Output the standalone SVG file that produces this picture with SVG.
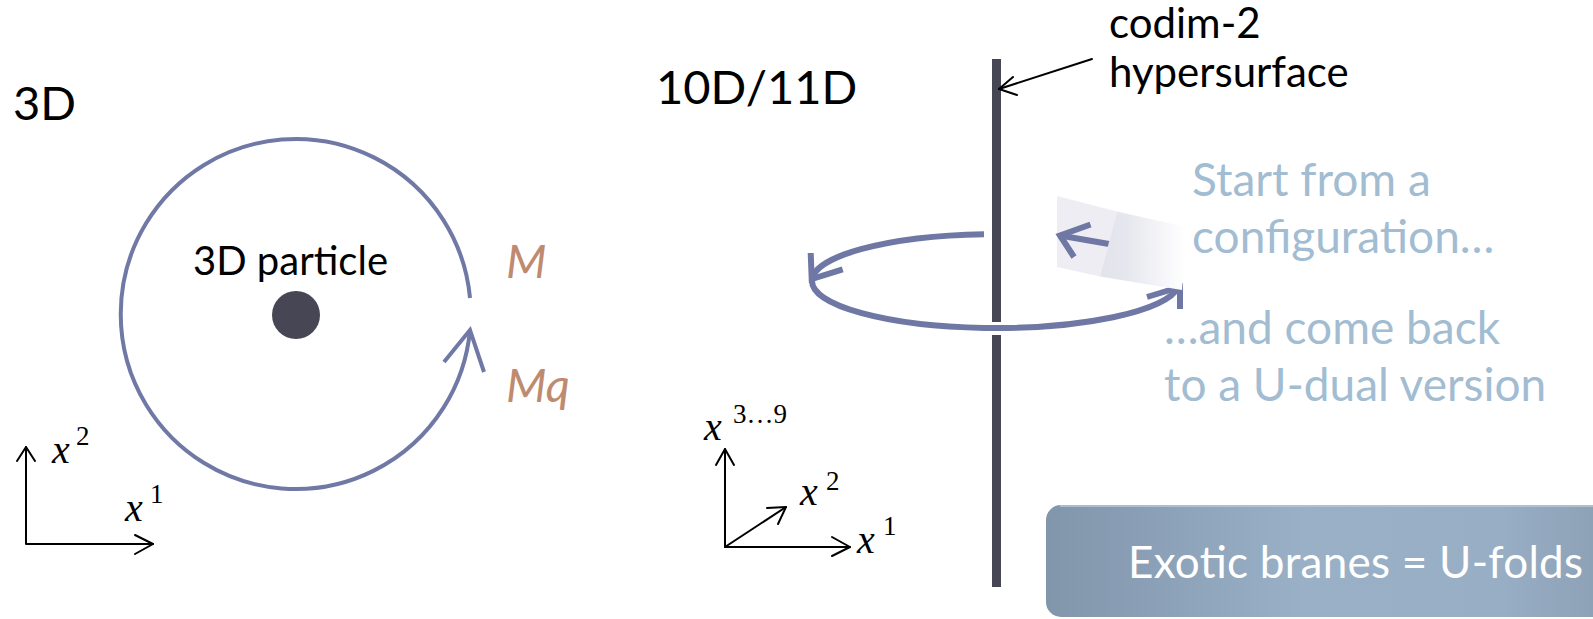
<svg xmlns="http://www.w3.org/2000/svg" width="1593" height="619" viewBox="0 0 1593 619">
<style>
.gill{font-family:Lato,"Open Sans","DejaVu Sans",sans-serif;}
.head{font-size:47px;fill:#000;}
.lbl{font-size:42px;fill:#000;}
.note{font-size:46px;fill:#A2BCD2;}
.mlab{font-size:47px;font-style:italic;fill:#BE8A70;}
.mx{font-family:"Liberation Serif",serif;font-style:italic;font-size:40px;fill:#000;}
.sup{font-family:"Liberation Serif",serif;font-size:27px;fill:#000;}
.ax{fill:none;stroke:#000;stroke-width:2;stroke-linecap:round;stroke-linejoin:round;}
.loop{fill:none;stroke:#7079A6;stroke-width:4;}
.loop2{fill:none;stroke:#6F78A5;stroke-width:6;}
.pole{fill:#474654;}
</style>
<defs>
<linearGradient id="band" gradientUnits="userSpaceOnUse" x1="1100" y1="0" x2="1186" y2="0">
<stop offset="0" stop-color="#E2E3EB"/>
<stop offset="0.3" stop-color="#E6E7EE"/>
<stop offset="1" stop-color="#FFFFFF"/>
</linearGradient>
<linearGradient id="box" x1="0" y1="0" x2="1" y2="0">
<stop offset="0" stop-color="#8195AB"/>
<stop offset="0.45" stop-color="#99B0C6"/>
<stop offset="0.8" stop-color="#98AEC4"/>
<stop offset="1" stop-color="#8B9EB4"/>
</linearGradient>
</defs>

<g id="left-panel">
<text id="title-3d" class="gill head" x="13" y="120">3D</text>
<g id="loop-left">
<path class="loop" d="M470 298 A175 175 0 1 0 470 330"/>
<polyline class="loop" points="444,362 470,330 484,372"/>
</g>
<g id="particle">
<circle cx="296" cy="315" r="24" fill="#474654"/>
<text class="gill" x="193" y="275" font-size="40" fill="#000">3D particle</text>
</g>
<text id="label-M" class="gill mlab" x="506" y="278">M</text>
<text id="label-Mq" class="gill mlab" x="506" y="402">Mq</text>
<g id="axes-left">
<polyline class="ax" points="26,447 26,544 153,544"/>
<polyline class="ax" points="17,461 26,447 35,461"/>
<polyline class="ax" points="135,535 153,544 135,554"/>
<text class="mx" x="52" y="463">x</text><text class="sup" x="76" y="445">2</text>
<text class="mx" x="125" y="521">x</text><text class="sup" x="150" y="503">1</text>
</g>
</g>

<g id="right-panel">
<text id="title-10d" class="gill head" x="656" y="104">10D/11D</text>
<g id="hypersurface">
<rect class="pole" x="992" y="59" width="9" height="263"/>
<rect class="pole" x="992" y="335" width="9" height="252"/>
</g>
<g id="codim-label">
<text class="gill lbl" x="1109" y="38">codim-2</text>
<text class="gill lbl" x="1109" y="87">hypersurface</text>
</g>
<g id="connectors">
<line class="ax" x1="1092" y1="59" x2="999" y2="89"/>
<polyline class="ax" points="1013,77 999,89 1017,95"/>
</g>
<g id="loop-right">
<path class="loop2" d="M984 234.2 A184 47 0 0 0 812 281 A184 47 0 0 0 1178.5 287"/>
<polyline class="loop2" points="810.7,253 811.7,279 842.7,269.3" stroke-linejoin="miter"/>
<polygon points="1057,196 1117,211.5 1100,276.5 1057,267" fill="#EDEDF3"/>
<polyline class="loop2" points="1090.5,224.5 1060,235.5 1074,257"/>
<line class="loop2" x1="1060" y1="235.5" x2="1112" y2="244.5"/>
<polyline class="loop2" points="1147,297 1180,287 1180,309"/>
<polygon points="1117,211.5 1186,227 1182,290 1100,276.5" fill="url(#band)"/>
</g>
<g id="notes">
<text class="gill note" x="1192" y="196">Start from a</text>
<text class="gill note" x="1192" y="253">configuration…</text>
<text class="gill note" x="1164" y="344">…and come back</text>
<text class="gill note" x="1164" y="401">to a U-dual version</text>
</g>
<g id="axes-right">
<polyline class="ax" points="725,449 725,547 850,547"/>
<polyline class="ax" points="716,465 725,449 734,465"/>
<polyline class="ax" points="832,537 850,547 832,556"/>
<line class="ax" x1="725" y1="547" x2="786" y2="507"/>
<polyline class="ax" points="767,508 786,507 778,524"/>
<text class="mx" x="704" y="440">x</text><text class="sup" x="733" y="423">3…9</text>
<text class="mx" x="800" y="505">x</text><text class="sup" x="826" y="490">2</text>
<text class="mx" x="857" y="553">x</text><text class="sup" x="883" y="535">1</text>
</g>
<g id="summary-box">
<rect x="1046" y="505" width="570" height="112" rx="15" fill="url(#box)"/>
<line x1="1060" y1="506" x2="1600" y2="506" stroke="#B9C8D6" stroke-width="1.5"/>
<text class="gill" x="1128" y="578" font-size="44" fill="#FFFFFF" textLength="455">Exotic branes = U-folds</text>
</g>
</g>
</svg>
